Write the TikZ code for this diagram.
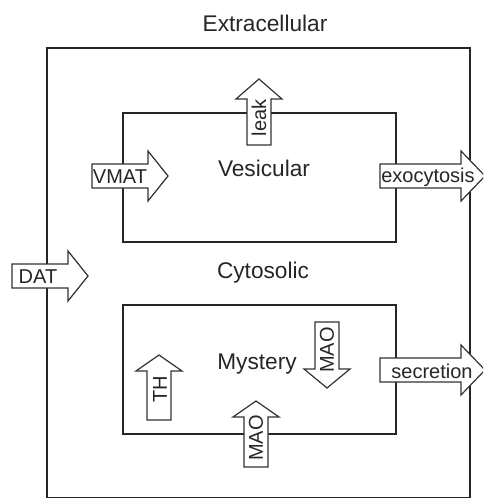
\documentclass[tikz,border=0pt]{standalone}
\usepackage{fontspec}
\setmainfont{Liberation Sans}
\newcommand{\hblockarrow}[4]{% x0, tip, yc, headlen
  \draw[blockarrow] (#1,{#3-12}) -- ({#2-#4},{#3-12}) -- ({#2-#4},{#3-25}) -- (#2,#3) -- ({#2-#4},{#3+25}) -- ({#2-#4},{#3+12}) -- (#1,{#3+12}) -- cycle;}
\newcommand{\vblockarrow}[4]{% xc, base y, tip y, headlen (signed)
  \draw[blockarrow] ({#1-12},#2) -- ({#1-12},{#3+#4}) -- ({#1-23},{#3+#4}) -- (#1,#3) -- ({#1+23},{#3+#4}) -- ({#1+12},{#3+#4}) -- ({#1+12},#2) -- cycle;}
\begin{document}
\begin{tikzpicture}[x=0.75pt,y=-0.75pt,
  box/.style={draw=black!85,line width=1.1pt},
  blockarrow/.style={draw=black!80,line width=0.9pt,fill=white},
  title/.style={font=\fontsize{17}{20}\selectfont,text=black!85},
  alabel/.style={font=\fontsize{15}{18}\selectfont,text=black!85,inner sep=0pt}]
\useasboundingbox (0,0) rectangle (483,499);
\clip (0,0) rectangle (483,499);
% compartments
\draw[box] (47,48) rectangle (470,497.5);
\draw[box] (123,113) rectangle (396,242);
\draw[box] (123,305) rectangle (396,434);
\node[title] (extra) at (265,23) {Extracellular};
\node[title] (vesic) at (264,168) {Vesicular};
\node[title] (cyto) at (263,273) {Cytosolic};
\node[title] (myst) at (257,364) {Mystery};
% horizontal block arrows
\hblockarrow{92}{168}{176}{20}
\node[alabel] (vmat) at (120,177) {VMAT};
\hblockarrow{380}{485}{176}{24}
\node[alabel] (exo) at (428,177) {exocytosis};
\hblockarrow{12}{88}{276}{20}
\node[alabel] (dat) at (38,277) {DAT};
\hblockarrow{380}{485}{370}{24}
\node[alabel] (secr) at (432,371) {secretion};
% vertical block arrows
\vblockarrow{259}{145}{79}{20}
\node[alabel,rotate=90] (leak) at (259,118) {leak};
\vblockarrow{159}{420}{355}{16}
\node[alabel,rotate=90] (th) at (160,389) {TH};
\vblockarrow{327}{322}{388}{-19}
\node[alabel,rotate=90] (mao1) at (327,350) {MAO};
\vblockarrow{256}{467}{401}{16}
\node[alabel,rotate=90] (mao2) at (256,438) {MAO};
\end{tikzpicture}
\end{document}
